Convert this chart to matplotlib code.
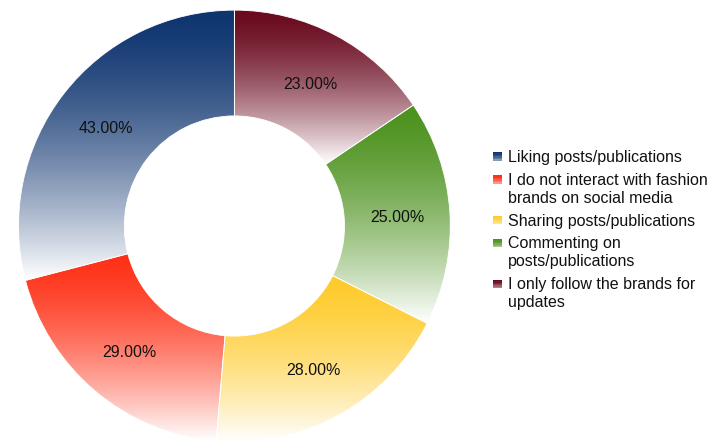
"""
Donut chart with vertical gradient fills (fashion brand interaction survey)
"""
import numpy as np
import matplotlib
matplotlib.use('Agg')
import matplotlib.pyplot as plt
from matplotlib.patches import Rectangle
from matplotlib.legend_handler import HandlerPatch

plt.rcParams['font.family'] = ['Liberation Sans', 'DejaVu Sans']

# data
labels = [
    'Liking posts/publications',
    'I do not interact with fashion\nbrands on social media',
    'Sharing posts/publications',
    'Commenting on\nposts/publications',
    'I only follow the brands for\nupdates',
]
values = [43, 29, 28, 25, 23]
value_text = ['43.00%', '29.00%', '28.00%', '25.00%', '23.00%']
colors = ['#0f3570', '#fe3117', '#fecb2c', '#4c921e', '#6a0a1f']

INNER = 0.51
GAMMA = 1.5
FS = 11.5
LINESP = 1.27


def gradient(color, n=256):
    """top = color, bottom = white"""
    rgb = np.array(matplotlib.colors.to_rgb(color))
    t = np.linspace(0, 1, n) ** GAMMA
    arr = rgb[None, :] * (1 - t[:, None]) + t[:, None]
    return arr[:, None, :]


class GradientHandler(HandlerPatch):
    def create_artists(self, legend, orig_handle, xdescent, ydescent,
                       width, height, fontsize, trans):
        arts = []
        n = 6
        grad = gradient(orig_handle.get_facecolor(), n + 3)[:, 0, :]
        size = min(width, height)
        x0 = -xdescent
        y0 = -ydescent + (height - size) / 2
        # push marker up to the first line of a multi-line label
        y0 += (orig_handle.nlines - 1) * fontsize * LINESP / 2
        for i in range(n):
            r = Rectangle((x0, y0 + size - (i + 1) * size / n), size, size / n,
                          facecolor=grad[i], edgecolor='none', transform=trans)
            arts.append(r)
        return arts


fig = plt.figure(figsize=(7.09, 4.43), dpi=100)
ax = fig.add_axes([0.0261, 0.0023, 0.609, 0.975])

wedges, _ = ax.pie(values, startangle=90, counterclock=True, radius=1,
                   wedgeprops=dict(width=1 - INNER, linewidth=0.6,
                                   edgecolor='white'))

for w, c, txt in zip(wedges, colors, value_text):
    th = np.radians(np.linspace(w.theta1, w.theta2, 200))
    ys = np.concatenate([np.sin(th), INNER * np.sin(th)])
    ymin, ymax = ys.min(), ys.max()
    im = ax.imshow(gradient(c), extent=(-1.05, 1.05, ymin, ymax),
                   origin='upper', aspect='auto', interpolation='bilinear',
                   zorder=1)
    im.set_clip_path(w)
    w.set_facecolor('none')
    w.set_zorder(2)

    mid = np.radians((w.theta1 + w.theta2) / 2)
    r = (1 + INNER) / 2
    ax.text(r * np.cos(mid), r * np.sin(mid) - 0.01, txt, ha='center',
            va='center', fontsize=FS, color='#111111', zorder=3)

ax.set_xlim(-1, 1)
ax.set_ylim(-1, 1)
ax.set_aspect('equal')
ax.axis('off')

handles = []
for c, lab in zip(colors, labels):
    h = Rectangle((0, 0), 1, 1, facecolor=c)
    h.nlines = lab.count('\n') + 1
    handles.append(h)

leg = fig.legend(handles, labels, loc='upper left',
                 bbox_to_anchor=(493 / 709, 1 - 150 / 443),
                 frameon=False, fontsize=FS, borderpad=0, borderaxespad=0,
                 handlelength=0.55, handleheight=0.55, handletextpad=0.4,
                 labelspacing=0.48,
                 handler_map={Rectangle: GradientHandler()})
for t in leg.get_texts():
    t.set_linespacing(LINESP)
    t.set_color('#111111')

fig.savefig('out.png', dpi=100)
